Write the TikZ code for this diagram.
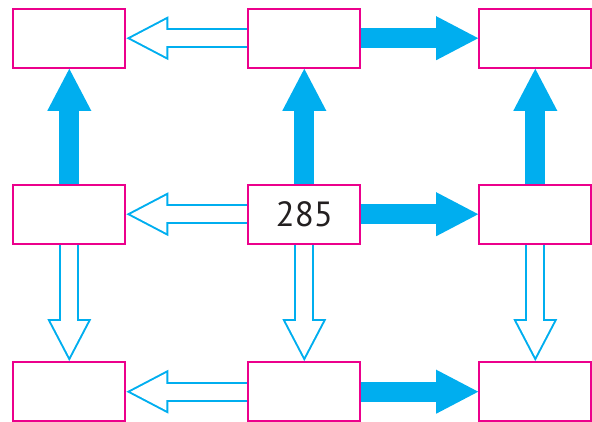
\documentclass[tikz,border=0pt]{standalone}
\usepackage{fontspec}
\setsansfont{PT Sans}
\usetikzlibrary{arrows.meta, positioning}

\definecolor{boxpink}{HTML}{EC008C}
\definecolor{flowcyan}{HTML}{00AEEF}
\definecolor{numgray}{HTML}{231F20}

\tikzset{
  cell/.style={draw=boxpink, line width=2.2pt, fill=white, inner sep=0pt,
    minimum width=112pt, minimum height=59pt,
    font=\sffamily\fontsize{35}{40}\selectfont, text=numgray},
  full/.style={draw=flowcyan, line width=20pt,
    -{Triangle[width=44pt, length=42pt, line width=0pt]}},
  hollowout/.style={draw=flowcyan, line width=20pt,
    -{Triangle[width=44pt, length=42pt, line width=0pt]}},
  hollowin/.style={draw=white, line width=16pt, shorten >=4.3pt,
    -{Triangle[width=37.4pt, length=35.7pt, line width=0pt]}}
}

\begin{document}
\begin{tikzpicture}[x=1pt, y=1pt, on grid]
  \useasboundingbox (0,0) rectangle (592,-421);

  % boxes
  \node[cell] (a1) at (69.3,-38.2) {};
  \node[cell] (a2) [right=235pt of a1] {};
  \node[cell] (a3) [right=231pt of a2] {};
  \node[cell] (b1) [below=176pt of a1] {};
  \node[cell] (b2) [right=235pt of b1] {285};
  \node[cell] (b3) [right=231pt of b2] {};
  \node[cell] (c1) [below=177.5pt of b1] {};
  \node[cell] (c2) [right=235pt of c1] {};
  \node[cell] (c3) [right=231pt of c2] {};

  % filled arrows
  \foreach \s/\t in {a2/a3, b2/b3, c2/c3, b1/a1, b2/a2, b3/a3}
    \draw[full] (\s) -- (\t);

  % open arrows
  \foreach \s/\t in {a2/a1, b2/b1, c2/c1, b1/c1, b2/c2, b3/c3} {
    \draw[hollowout] (\s) -- (\t);
    \draw[hollowin] (\s) -- (\t);
  }
\end{tikzpicture}
\end{document}
